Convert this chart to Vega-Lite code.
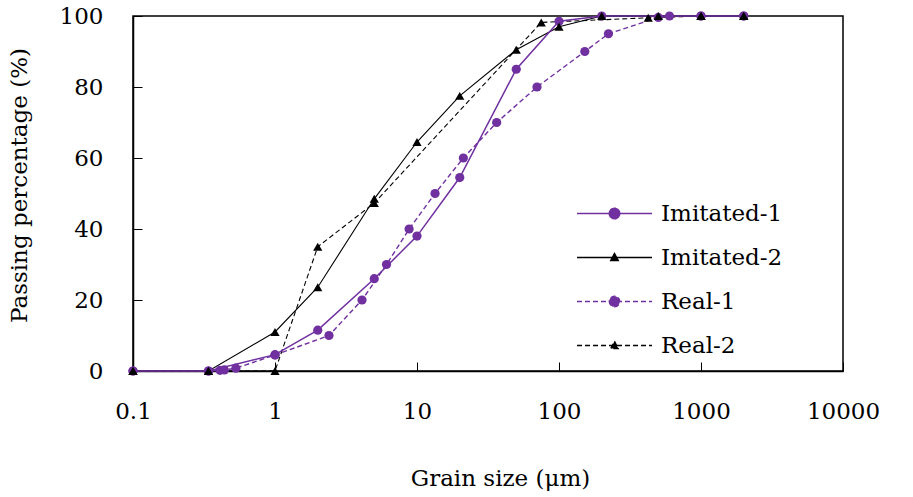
{
  "$schema": "https://vega.github.io/schema/vega-lite/v6.json",
  "width": 710,
  "height": 355,
  "autosize": {"type": "none"},
  "padding": {"left": 133, "top": 16, "right": 70, "bottom": 126},
  "background": "white",
  "config": {
    "font": "DejaVu Serif",
    "view": {"stroke": "#000", "strokeWidth": 1.5},
    "axis": {
      "grid": false,
      "domainColor": "#000",
      "domainWidth": 1.5,
      "tickColor": "#000",
      "tickWidth": 1,
      "tickSize": -9,
      "labelFlush": false,
      "labelFont": "DejaVu Serif",
      "labelFontSize": 23,
      "labelColor": "#000",
      "titleFont": "DejaVu Serif",
      "titleFontSize": 23,
      "titleFontWeight": "normal",
      "titleColor": "#000"
    },
    "legend": {
      "title": null,
      "orient": "none",
      "legendX": 444,
      "legendY": 186,
      "symbolSize": 400,
      "symbolOpacity": 1,
      "symbolStrokeWidth": 1.3,
      "symbolOffset": 26,
      "labelOffset": 35,
      "labelFont": "DejaVu Serif",
      "labelFontSize": 23,
      "labelColor": "#000",
      "labelLimit": 300,
      "rowPadding": 20
    }
  },
  "data": {
    "values": [
      {"series": "Imitated-1", "size": 0.1, "pass": 0},
      {"series": "Imitated-1", "size": 0.34, "pass": 0},
      {"series": "Imitated-1", "size": 1, "pass": 4.6},
      {"series": "Imitated-1", "size": 2, "pass": 11.5},
      {"series": "Imitated-1", "size": 5, "pass": 26},
      {"series": "Imitated-1", "size": 10, "pass": 38},
      {"series": "Imitated-1", "size": 20, "pass": 54.5},
      {"series": "Imitated-1", "size": 50, "pass": 85},
      {"series": "Imitated-1", "size": 100, "pass": 98.5},
      {"series": "Imitated-1", "size": 200, "pass": 100},
      {"series": "Imitated-1", "size": 1000, "pass": 100},
      {"series": "Imitated-1", "size": 2000, "pass": 100},

      {"series": "Imitated-2", "size": 0.1, "pass": 0},
      {"series": "Imitated-2", "size": 0.34, "pass": 0},
      {"series": "Imitated-2", "size": 1, "pass": 11},
      {"series": "Imitated-2", "size": 2, "pass": 23.6},
      {"series": "Imitated-2", "size": 5, "pass": 48.5},
      {"series": "Imitated-2", "size": 10, "pass": 64.5},
      {"series": "Imitated-2", "size": 20, "pass": 77.5},
      {"series": "Imitated-2", "size": 50, "pass": 90.5},
      {"series": "Imitated-2", "size": 100, "pass": 97},
      {"series": "Imitated-2", "size": 200, "pass": 100},
      {"series": "Imitated-2", "size": 500, "pass": 100},
      {"series": "Imitated-2", "size": 1000, "pass": 100},
      {"series": "Imitated-2", "size": 2000, "pass": 100},

      {"series": "Real-1", "size": 0.1, "pass": 0},
      {"series": "Real-1", "size": 0.34, "pass": 0},
      {"series": "Real-1", "size": 0.41, "pass": 0.2},
      {"series": "Real-1", "size": 0.44, "pass": 0.3},
      {"series": "Real-1", "size": 0.53, "pass": 0.8},
      {"series": "Real-1", "size": 1, "pass": 4.5},
      {"series": "Real-1", "size": 2.4, "pass": 10},
      {"series": "Real-1", "size": 4.1, "pass": 20},
      {"series": "Real-1", "size": 6.1, "pass": 30},
      {"series": "Real-1", "size": 8.8, "pass": 40},
      {"series": "Real-1", "size": 13.4, "pass": 50},
      {"series": "Real-1", "size": 21.2, "pass": 60},
      {"series": "Real-1", "size": 36.4, "pass": 70},
      {"series": "Real-1", "size": 70, "pass": 80},
      {"series": "Real-1", "size": 152, "pass": 90},
      {"series": "Real-1", "size": 223, "pass": 95},
      {"series": "Real-1", "size": 500, "pass": 99.6},
      {"series": "Real-1", "size": 600, "pass": 100},
      {"series": "Real-1", "size": 1000, "pass": 100},
      {"series": "Real-1", "size": 2000, "pass": 100},

      {"series": "Real-2", "size": 0.1, "pass": 0},
      {"series": "Real-2", "size": 0.34, "pass": 0},
      {"series": "Real-2", "size": 1, "pass": 0},
      {"series": "Real-2", "size": 2, "pass": 35},
      {"series": "Real-2", "size": 5, "pass": 47.3},
      {"series": "Real-2", "size": 75, "pass": 98.2},
      {"series": "Real-2", "size": 425, "pass": 99.5},
      {"series": "Real-2", "size": 1000, "pass": 100},
      {"series": "Real-2", "size": 2000, "pass": 100}
    ]
  },
  "encoding": {
    "x": {
      "field": "size",
      "type": "quantitative",
      "scale": {"type": "log", "domain": [0.1, 10000], "nice": false},
      "axis": {
        "title": "Grain size (μm)",
        "values": [0.1, 1, 10, 100, 1000, 10000],
        "format": "~g",
        "labelPadding": 38,
        "labelBaseline": "top",
        "titleX": 367,
        "titleY": 107,
        "titleBaseline": "middle",
        "titleAnchor": "middle"
      }
    },
    "y": {
      "field": "pass",
      "type": "quantitative",
      "scale": {"domain": [0, 100], "nice": false},
      "axis": {
        "title": "Passing percentage (%)",
        "values": [0, 20, 40, 60, 80, 100],
        "labelPadding": 39,
        "titleX": -114,
        "titleY": 169,
        "titleBaseline": "middle",
        "titleAngle": -90,
        "titleAnchor": "middle",
        "titleAlign": "center"
      }
    }
  },
  "layer": [
    {
      "transform": [{"filter": {"field": "series", "equal": "Real-2"}}],
      "mark": {"type": "line", "color": "#000000", "strokeWidth": 1.1, "strokeDash": [5, 3]}
    },
    {
      "transform": [{"filter": {"field": "series", "equal": "Real-1"}}],
      "mark": {"type": "line", "color": "#7030a0", "strokeWidth": 1.4, "strokeDash": [5, 3]}
    },
    {
      "transform": [{"filter": {"field": "series", "equal": "Imitated-2"}}],
      "mark": {"type": "line", "color": "#000000", "strokeWidth": 1.1}
    },
    {
      "transform": [{"filter": {"field": "series", "equal": "Imitated-1"}}],
      "mark": {"type": "line", "color": "#7030a0", "strokeWidth": 1.5}
    },
    {
      "transform": [{"filter": {"field": "series", "oneOf": ["Imitated-1", "Real-1"]}}],
      "mark": {"type": "point", "shape": "circle", "filled": true, "opacity": 1, "color": "#7030a0", "size": 85}
    },
    {
      "transform": [{"filter": {"field": "series", "oneOf": ["Imitated-2", "Real-2"]}}],
      "mark": {"type": "point", "shape": "triangle-up", "filled": true, "opacity": 1, "color": "#000000", "size": 85}
    },
    {
      "mark": {"type": "point", "filled": true, "opacity": 0, "size": 85},
      "encoding": {
        "fill": {
          "field": "series",
          "type": "nominal",
          "scale": {"domain": ["Imitated-1", "Imitated-2", "Real-1", "Real-2"], "range": ["#7030a0", "#000000", "#7030a0", "#000000"]}
        },
        "stroke": {
          "field": "series",
          "type": "nominal",
          "scale": {"domain": ["Imitated-1", "Imitated-2", "Real-1", "Real-2"], "range": ["#7030a0", "#000000", "#7030a0", "#000000"]}
        },
        "strokeDash": {
          "field": "series",
          "type": "nominal",
          "scale": {"domain": ["Imitated-1", "Imitated-2", "Real-1", "Real-2"], "range": [[1, 0], [1, 0], [5, 3], [5, 3]]}
        },
        "shape": {
          "field": "series",
          "type": "nominal",
          "scale": {
            "domain": ["Imitated-1", "Imitated-2", "Real-1", "Real-2"],
            "range": [
              "M-3.75,0H3.75M-0.53,0A0.53,0.53,0,1,0,0.53,0A0.53,0.53,0,1,0,-0.53,0Z",
              "M-3.75,0H3.75M0,-0.42L0.38,0.3L-0.38,0.3Z",
              "M-3.75,0H3.75M-0.53,0A0.53,0.53,0,1,0,0.53,0A0.53,0.53,0,1,0,-0.53,0Z",
              "M-3.75,0H3.75M0,-0.42L0.38,0.3L-0.38,0.3Z"
            ]
          }
        }
      }
    }
  ]
}
